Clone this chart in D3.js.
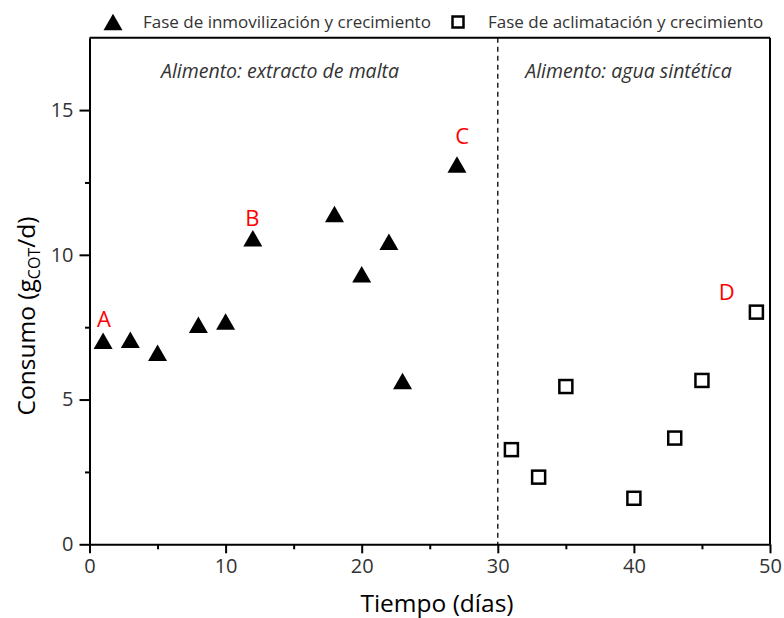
<!DOCTYPE html>
<html>
<head>
<meta charset="utf-8">
<script src="https://cdn.jsdelivr.net/npm/d3@7"></script>
<style>
  body { margin: 0; background: #fff; }
  svg { font-family: "Open Sans", "Noto Sans", sans-serif; }
</style>
</head>
<body>
<div id="chart"></div>
<script>
// data
var diasInmov = [1, 3, 5, 8, 10, 12, 18, 20, 22, 23, 27];
var consumoInmov = [7.03, 7.07, 6.62, 7.58, 7.70, 10.57, 11.41, 9.33, 10.45, 5.64, 13.12];
var diasAclim = [31, 33, 35, 40, 43, 45, 49];
var consumoAclim = [3.27, 2.32, 5.45, 1.59, 3.67, 5.66, 8.02];
var etiquetas = ["A", "B", "C", "D"];
var etiquetaX = [1.07, 11.96, 27.39, 46.82];
var etiquetaY = [7.51, 10.99, 13.84, 8.43];
var xTicks = [0, 10, 20, 30, 40, 50];
var xMinor = [5, 15, 25, 35, 45];
var yTicks = [0, 5, 10, 15];
var yMinor = [2.5, 7.5, 12.5];
var cambioFase = 30;

var width = 784, height = 618;
var margin = {top: 37.7, right: 14, bottom: 73.7, left: 89.5};

var svg = d3.select("#chart").append("svg")
    .attr("width", width)
    .attr("height", height);

var x = d3.scaleLinear().domain([0, 50]).range([margin.left, width - margin.right]);
var y = d3.scaleLinear().domain([0, 17.5]).range([height - margin.bottom, margin.top]);

// triangle centred on its bounding box
function triangle(cx, cy, w, h) {
    return "M" + (cx - w / 2) + "," + (cy + h / 2) +
           "L" + cx + "," + (cy - h / 2) +
           "L" + (cx + w / 2) + "," + (cy + h / 2) + "Z";
}

// frame (top and right)
svg.append("line")
    .attr("x1", x(0)).attr("x2", x(50))
    .attr("y1", y(17.5)).attr("y2", y(17.5))
    .attr("stroke", "#000").attr("stroke-width", 2);
svg.append("line")
    .attr("x1", x(50)).attr("x2", x(50))
    .attr("y1", y(17.5)).attr("y2", y(0))
    .attr("stroke", "#000").attr("stroke-width", 2);

// x axis
svg.append("g")
    .attr("transform", "translate(0," + y(0) + ")")
    .call(d3.axisBottom(x).tickValues(xTicks).tickSize(9).tickPadding(6).tickSizeOuter(0));
svg.append("g")
    .attr("transform", "translate(0," + y(0) + ")")
    .call(d3.axisBottom(x).tickValues(xMinor).tickSize(5).tickFormat("").tickSizeOuter(0))
    .select(".domain").remove();

// y axis
svg.append("g")
    .attr("transform", "translate(" + x(0) + ",0)")
    .call(d3.axisLeft(y).tickValues(yTicks).tickSize(10).tickPadding(6).tickSizeOuter(0));
svg.append("g")
    .attr("transform", "translate(" + x(0) + ",0)")
    .call(d3.axisLeft(y).tickValues(yMinor).tickSize(4.5).tickFormat("").tickSizeOuter(0))
    .select(".domain").remove();

svg.selectAll(".domain").attr("stroke", "#000").attr("stroke-width", 2);
svg.selectAll(".tick line").attr("stroke", "#000").attr("stroke-width", 2);
svg.selectAll(".tick text")
    .attr("font-size", 20)
    .attr("fill", "#333")
    .style("font-family", "'Open Sans', sans-serif");

// dashed line marking the change of phase
svg.append("line")
    .attr("x1", x(cambioFase)).attr("x2", x(cambioFase))
    .attr("y1", y(17.5)).attr("y2", y(0))
    .attr("stroke", "#000").attr("stroke-width", 1.3)
    .attr("stroke-dasharray", "5,4");

// feed annotations
svg.append("text")
    .attr("x", 280).attr("y", 78)
    .attr("text-anchor", "middle")
    .attr("font-size", 19.5).attr("font-style", "italic").attr("fill", "#333")
    .text("Alimento: extracto de malta");
svg.append("text")
    .attr("x", 628.5).attr("y", 78)
    .attr("text-anchor", "middle")
    .attr("font-size", 19.5).attr("font-style", "italic").attr("fill", "#333")
    .text("Alimento: agua sintética");

// triangles
svg.selectAll("path.inmov").data(diasInmov).enter()
    .append("path")
    .attr("class", "inmov")
    .attr("d", function (d, i) { return triangle(x(d), y(consumoInmov[i]), 19, 16.5); })
    .attr("fill", "#000");

// squares
svg.selectAll("rect.aclim").data(diasAclim).enter()
    .append("rect")
    .attr("class", "aclim")
    .attr("x", function (d) { return x(d) - 6.5; })
    .attr("y", function (d, i) { return y(consumoAclim[i]) - 6.5; })
    .attr("width", 13).attr("height", 13)
    .attr("fill", "#fff").attr("stroke", "#000").attr("stroke-width", 2.5);

// red letters
svg.selectAll("text.etiqueta").data(etiquetas).enter()
    .append("text")
    .attr("class", "etiqueta")
    .attr("x", function (d, i) { return x(etiquetaX[i]); })
    .attr("y", function (d, i) { return y(etiquetaY[i]); })
    .attr("text-anchor", "middle")
    .attr("font-size", 22)
    .attr("fill", "#ff0000")
    .text(function (d) { return d; });

// legend
var legend = svg.append("g");
legend.append("path")
    .attr("d", triangle(113, 22, 19, 16.5))
    .attr("fill", "#000");
legend.append("text")
    .attr("x", 143).attr("y", 28)
    .attr("font-size", 17).attr("fill", "#333")
    .text("Fase de inmovilización y crecimiento");
legend.append("rect")
    .attr("x", 452.5).attr("y", 16.5)
    .attr("width", 11).attr("height", 11)
    .attr("fill", "#fff").attr("stroke", "#000").attr("stroke-width", 2.5);
legend.append("text")
    .attr("x", 488).attr("y", 28)
    .attr("font-size", 17).attr("fill", "#333")
    .text("Fase de aclimatación y crecimiento");

// axis titles
svg.append("text")
    .attr("x", 437).attr("y", 612)
    .attr("text-anchor", "middle")
    .attr("font-size", 24.5)
    .text("Tiempo (días)");

var yTitle = svg.append("text")
    .attr("transform", "translate(35," + 316 + ") rotate(-90)")
    .attr("text-anchor", "middle")
    .attr("font-size", 24.5);
yTitle.append("tspan").text("Consumo (g");
yTitle.append("tspan").attr("font-size", 16).attr("dy", 5).text("COT");
yTitle.append("tspan").attr("dy", -5).text("/d)");
</script>
</body>
</html>
